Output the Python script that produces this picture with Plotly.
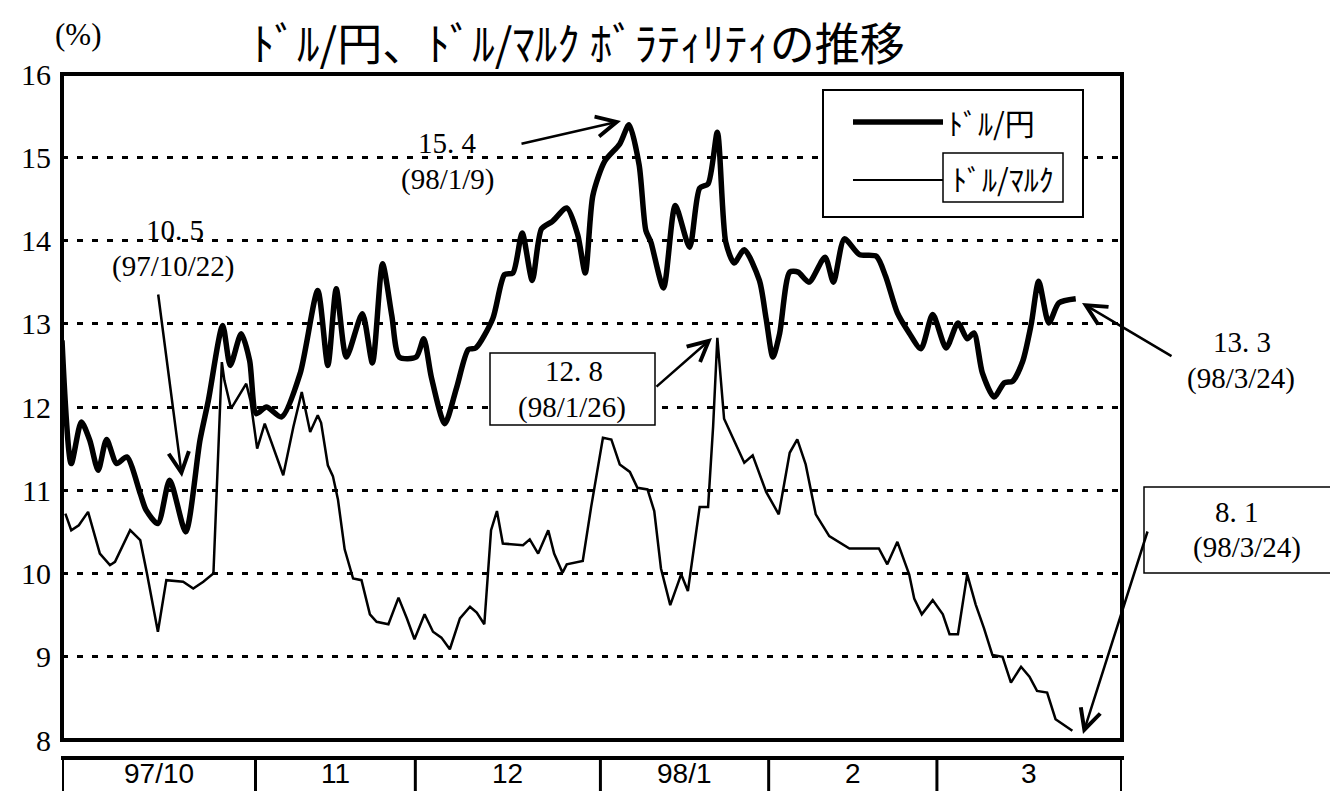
import plotly.graph_objects as go

# ---------------- data ----------------
# x = business-day index (0 = 1997/10/1); month boundaries in the same units
month_labels = ["97/10", "11", "12", "98/1", "2", "3"]
month_starts = [0, 23, 42, 64, 84, 104, 126]

yen_x = [0, 1.1, 2.3, 3.3, 4.3, 5.3, 6.5, 7.7, 9.3, 10.0, 11.4, 12.8, 14.7, 16.4, 17.4,
         19.1, 20.0, 21.3, 22.3, 23.1, 24.3, 26.1, 28.3, 30.4, 31.6, 32.6, 33.8, 35.7,
         36.9, 38.1, 39.2, 40.1, 42.1, 43.0, 43.9, 45.5, 46.9, 48.3, 49.2, 51.2, 52.6,
         53.6, 54.7, 55.9, 57.0, 58.3, 60.0, 61.3, 62.2, 63.1, 64.5, 66.3, 67.4, 68.6,
         69.4, 70.0, 71.5, 72.9, 74.6, 75.8, 76.8, 77.9, 78.9, 79.9, 81.1, 82.9, 83.7,
         84.5, 85.3, 86.5, 87.5, 88.8, 90.7, 91.7, 93.0, 94.8, 96.8, 97.9, 99.3, 100.7,
         102.1, 103.5, 105.1, 106.5, 107.6, 108.4, 109.4, 110.8, 112.0, 113.0, 114.2,
         115.2, 116.1, 117.3, 118.5, 120.5]
yen_v = [12.8, 11.32, 11.82, 11.6, 11.24, 11.61, 11.32, 11.4, 10.96, 10.76, 10.6, 11.12,
         10.5, 11.6, 12.08, 12.98, 12.5, 12.88, 12.56, 11.92, 12.0, 11.88, 12.4, 13.4,
         12.5, 13.42, 12.6, 13.12, 12.53, 13.72, 13.1, 12.6, 12.6, 12.82, 12.36, 11.8,
         12.23, 12.69, 12.71, 13.06, 13.59, 13.61, 14.09, 13.52, 14.14, 14.23, 14.39,
         14.07, 13.61, 14.54, 14.95, 15.16, 15.39, 14.91, 14.12, 13.98, 13.43, 14.42,
         13.92, 14.63, 14.68, 15.3, 13.98, 13.73, 13.89, 13.52, 13.06, 12.6, 12.88,
         13.62, 13.62, 13.5, 13.8, 13.5, 14.02, 13.83, 13.81, 13.57, 13.13, 12.89, 12.7,
         13.11, 12.71, 13.01, 12.82, 12.89, 12.41, 12.12, 12.29, 12.31, 12.55, 12.99,
         13.51, 13.01, 13.25, 13.3]

mark_x = [0.4, 1.1, 2.0, 3.1, 4.5, 5.7, 6.3, 8.1, 9.3, 10.1, 11.4, 12.4, 14.4, 15.6, 16.8,
          18.0, 19.0, 19.3, 20.1, 21.9, 22.4, 23.2, 24.1, 26.3, 27.5, 28.5, 29.5, 30.4,
          30.8, 31.6, 32.2, 32.8, 33.6, 34.6, 35.6, 36.6, 37.4, 38.8, 40.0, 41.0, 41.9,
          43.1, 44.1, 45.1, 46.1, 47.3, 48.5, 49.3, 50.2, 51.0, 51.7, 52.4, 54.8, 55.6,
          56.6, 57.8, 58.5, 59.5, 60.0, 61.9, 62.9, 64.3, 65.3, 66.3, 67.5, 68.4, 69.6,
          70.4, 71.2, 72.3, 73.6, 74.4, 75.8, 76.8, 77.4, 77.9, 78.7, 79.5, 81.1, 82.1,
          83.7, 85.2, 86.5, 87.4, 88.4, 89.6, 91.2, 93.6, 97.1, 98.1, 99.3, 100.7, 101.3,
          102.2, 103.5, 104.7, 105.5, 106.5, 107.6, 108.6, 109.6, 110.6, 111.8, 112.8,
          114.0, 115.0, 115.9, 117.1, 118.1, 120.1]
mark_v = [10.72, 10.52, 10.58, 10.74, 10.24, 10.1, 10.14, 10.52, 10.4, 10.0, 9.3, 9.92,
          9.9, 9.82, 9.9, 10.0, 12.54, 12.32, 11.98, 12.28, 12.08, 11.5, 11.8, 11.18,
          11.76, 12.18, 11.7, 11.9, 11.81, 11.3, 11.17, 10.89, 10.29, 9.94, 9.92, 9.51,
          9.42, 9.39, 9.71, 9.46, 9.21, 9.51, 9.3, 9.23, 9.09, 9.46, 9.6, 9.53, 9.39,
          10.52, 10.75, 10.36, 10.34, 10.41, 10.24, 10.52, 10.24, 10.01, 10.11, 10.15,
          10.8, 11.63, 11.61, 11.31, 11.22, 11.03, 11.01, 10.75, 10.06, 9.62, 9.99, 9.79,
          10.8, 10.8, 11.77, 12.83, 11.86, 11.68, 11.33, 11.42, 10.98, 10.71, 11.45,
          11.61, 11.31, 10.71, 10.45, 10.3, 10.3, 10.11, 10.38, 9.99, 9.7, 9.51, 9.68,
          9.51, 9.27, 9.27, 9.99, 9.63, 9.34, 9.02, 9.0, 8.69, 8.88, 8.76, 8.59, 8.57,
          8.25, 8.11]

y_ticks = [8, 9, 10, 11, 12, 13, 14, 15, 16]

title_text = "ﾄﾞﾙ/円、ﾄﾞﾙ/ﾏﾙｸ ﾎﾞﾗﾃｨﾘﾃｨの推移"
unit_text = "(%)"
series_names = ["ﾄﾞﾙ/円", "ﾄﾞﾙ/ﾏﾙｸ"]

# callouts: value text, date text
callouts = [("15. 4", "(98/1/9)"), ("10. 5", "(97/10/22)"), ("12. 8", "(98/1/26)"),
            ("13. 3", "(98/3/24)"), ("8. 1", "(98/3/24)")]

# ---------------- layout geometry (page pixels) ----------------
W, H = 1338, 791
OFF = 8                      # default page body margin
L, R, T, B = 62, 1122, 74, 740


def xp(px):
    return (px - L) / (R - L)


def yp(py):
    return (B - py) / (B - T)


SERIF = "Liberation Serif, DejaVu Serif, serif"
JP = "Noto Sans CJK JP, sans-serif"
SANS = "Liberation Sans, Arial, sans-serif"

fig = go.Figure()
fig.add_trace(go.Scatter(x=yen_x, y=yen_v, mode="lines", name=series_names[0],
                         line=dict(color="black", width=5.5, shape="spline", smoothing=0.7)))
fig.add_trace(go.Scatter(x=mark_x, y=mark_v, mode="lines", name=series_names[1],
                         line=dict(color="black", width=2.5)))

shapes = []
# plot frame
shapes.append(dict(type="rect", xref="paper", yref="paper", x0=0, x1=1, y0=0, y1=1,
                   line=dict(color="black", width=4)))
# month table
shapes.append(dict(type="line", xref="paper", yref="paper", x0=xp(L - 1), x1=xp(1124),
                   y0=yp(758), y1=yp(758), line=dict(color="black", width=4)))
for i, m in enumerate(month_starts):
    shapes.append(dict(type="line", xref="x", yref="paper", x0=m, x1=m,
                       y0=yp(757), y1=yp(800),
                       line=dict(color="black", width=4 if i in (0, len(month_starts) - 1) else 3)))


def box(x0, y0, x1, y1, w=1.5):
    shapes.append(dict(type="rect", xref="paper", yref="paper", x0=xp(x0), x1=xp(x1),
                       y0=yp(y1), y1=yp(y0), line=dict(color="black", width=w),
                       fillcolor="white", layer="above"))


# legend box
box(823, 90, 1083, 217, 2)
shapes.append(dict(type="line", xref="paper", yref="paper", x0=xp(853), x1=xp(943),
                   y0=yp(122), y1=yp(122), line=dict(color="black", width=5.5)))
shapes.append(dict(type="line", xref="paper", yref="paper", x0=xp(853), x1=xp(943),
                   y0=yp(180), y1=yp(180), line=dict(color="black", width=2)))
box(943, 153, 1063, 202, 1.5)
# callout boxes
box(490, 353, 655, 425, 1.5)
box(1144, 487, 1335, 573, 1.5)

ann = []


def text(t, cx, cy, font, xanchor="center"):
    ann.append(dict(text=t, x=xp(cx), y=yp(cy), xref="paper", yref="paper",
                    showarrow=False, xanchor=xanchor, yanchor="middle", font=font))


# title and unit
text(title_text, 578, 42, dict(family=JP, size=45, color="black"))
text(unit_text, 78, 35, dict(family=SERIF, size=31, color="black"))
# legend text
text(series_names[0], 946, 122, dict(family=JP, size=30, color="black"), xanchor="left")
text(series_names[1], 1003, 178, dict(family=JP, size=30, color="black"))

# month labels
for i, lab in enumerate(month_labels):
    ann.append(dict(text=lab, x=(month_starts[i] + month_starts[i + 1]) / 2, y=yp(773),
                    xref="x", yref="paper", showarrow=False, xanchor="center",
                    yanchor="middle",
                    font=dict(family=SANS, size=28, color="black")))


def arrow(tail, head):
    ann.append(dict(text="", x=xp(head[0]), y=yp(head[1]), xref="paper", yref="paper",
                    ax=tail[0] - head[0], ay=tail[1] - head[1], showarrow=True,
                    arrowhead=5, arrowsize=1.6, arrowwidth=2.5, arrowcolor="black",
                    standoff=0, startstandoff=0))


NUMFONT = dict(family=SERIF, size=29, color="black")

# 15.4
text(callouts[0][0], 447, 143, NUMFONT)
text(callouts[0][1], 447, 180, NUMFONT)
arrow((520, 144), (621, 121))
# 10.5
text(callouts[1][0], 175, 230, NUMFONT)
text(callouts[1][1], 173, 266, NUMFONT)
arrow((158, 293), (182, 477))
# 12.8
text(callouts[2][0], 574, 371, NUMFONT)
text(callouts[2][1], 572, 407, NUMFONT)
arrow((655, 388), (712, 338))
# 13.3
text(callouts[3][0], 1242, 342, NUMFONT)
text(callouts[3][1], 1241, 378, NUMFONT)
arrow((1173, 357), (1082, 303))
# 8.1
text(callouts[4][0], 1237, 512, NUMFONT)
text(callouts[4][1], 1247, 547, NUMFONT)
arrow((1148, 530), (1083, 734))

fig.update_layout(
    width=W - OFF, height=H - OFF,
    margin=dict(l=L - OFF, r=W - R, t=T - OFF, b=H - B, pad=0, autoexpand=False),
    paper_bgcolor="white", plot_bgcolor="white",
    showlegend=False,
    shapes=shapes, annotations=ann,
    xaxis=dict(range=[0, 126], showgrid=False, showticklabels=False, zeroline=False,
               ticks="", showline=False, fixedrange=True, automargin=False),
    yaxis=dict(range=[8, 16], tickvals=y_ticks, ticktext=[str(v) for v in y_ticks],
               showgrid=True, gridcolor="black", gridwidth=2.5, griddash="6px,9px",
               zeroline=False, ticks="", ticklabelstandoff=10,
               tickfont=dict(family=SERIF, size=30, color="black"), showline=False,
               fixedrange=True, automargin=False),
)

fig.write_html("out.html")
